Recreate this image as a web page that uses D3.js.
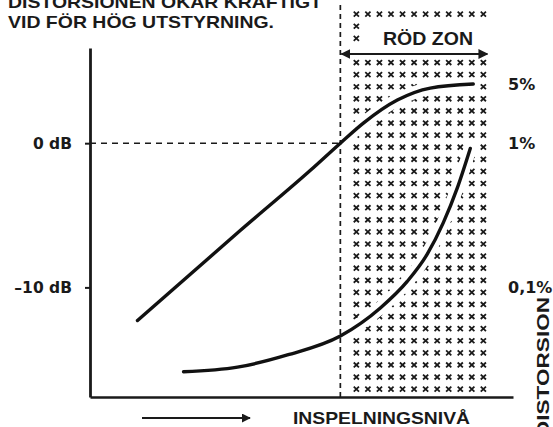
<!DOCTYPE html>
<html lang="sv">
<head>
  <meta charset="UTF-8">
  <title>Distorsion vid hög utstyrning</title>
  <script src="https://d3js.org/d3.v7.min.js"></script>
  <style>
    body {
      margin: 0;
      padding: 0;
      background: #fff;
    }
    svg text {
      font-family: "Liberation Sans", Arial, sans-serif;
      font-weight: bold;
      fill: #1a1a1a;
    }
    svg text.wide {
      font-family: "DejaVu Sans", Verdana, sans-serif;
    }
  </style>
</head>
<body>
  <div id="chart"></div>

  <script>
    // level curve: input level (dB) -> output level (dB)
    const levels1 = [-14.1, -6.94, -2.08, 0, 1.6, 3.96, 6.25, 9.24];
    const output1 = [-12.3, -6.04, -1.88, 0, 1.39, 2.99, 3.82, 4.1];

    // distortion curve: input level (dB) -> distortion (%)
    const levels2 = [-10.9, -7.15, -3.68, 0, 2.78, 4.65, 6.04, 7.15, 8.13, 9.03];
    const dist2 = [0.026, 0.028, 0.034, 0.046, 0.072, 0.11, 0.17, 0.28, 0.49, 0.92];

    const dbTicks = [0, -10];
    const dbLabels = ["0 dB", "–10 dB"];
    const distTicks = [0.1, 1, 5];
    const distLabels = ["0,1%", "1%", "5%"];
    const distAsDb = [-10, 0, 4.1];

    const titleLines = ["DISTORSIONEN ÖKAR KRAFTIGT", "VID FÖR HÖG UTSTYRNING."];

    const W = 553, H = 427;

    const svg = d3.select("#chart")
      .append("svg")
      .attr("width", W)
      .attr("height", H);

    const x = d3.scaleLinear().domain([-17.4, 12]).range([90, 513]);
    const y = d3.scaleLinear().domain([-17.6, 6.6]).range([397, 48]);
    const yDist = d3.scaleLog().domain(distTicks).range(distAsDb.map(y));

    // red zone pattern
    const zoneX = x(0);
    const cols = d3.scalePoint().domain(d3.range(12)).range([zoneX + 16, zoneX + 143]);
    const rows = d3.scalePoint().domain(d3.range(32)).range([14, 389]);
    const marks = [];
    rows.domain().forEach(r => {
      cols.domain().forEach(c => {
        const px = cols(c), py = rows(r);
        if (py > 20 && py < 58 && px > zoneX + 22) return;
        if (py > 46 && py < 58) return;
        marks.push([px, py]);
      });
    });

    svg.append("g")
      .selectAll("path")
      .data(marks)
      .enter()
      .append("path")
      .attr("transform", d => `translate(${d[0]},${d[1]})`)
      .attr("d", "M-2.6,-2.3 L2.6,2.6 M2.6,-2.3 L-2.6,2.6")
      .attr("stroke", "#1a1a1a")
      .attr("stroke-width", 1.8)
      .attr("fill", "none");

    const line1 = d3.line()
      .x((d, i) => x(levels1[i]))
      .y(d => y(d))
      .curve(d3.curveMonotoneX);

    const line2 = d3.line()
      .x((d, i) => x(levels2[i]))
      .y(d => yDist(d))
      .curve(d3.curveMonotoneX);

    // white gaps in the pattern around the curves
    [line1(output1), line2(dist2)].forEach(p => {
      svg.append("path")
        .attr("d", p)
        .attr("fill", "none")
        .attr("stroke", "#fff")
        .attr("stroke-width", 13)
        .attr("stroke-linecap", "round");
    });

    // dashed guides
    svg.append("line")
      .attr("x1", zoneX).attr("x2", zoneX)
      .attr("y1", 5).attr("y2", y.range()[0])
      .attr("stroke", "#1a1a1a")
      .attr("stroke-width", 1.7)
      .attr("stroke-dasharray", "5,4");

    svg.append("line")
      .attr("x1", x.range()[0]).attr("x2", zoneX)
      .attr("y1", y(0)).attr("y2", y(0))
      .attr("stroke", "#1a1a1a")
      .attr("stroke-width", 1.5)
      .attr("stroke-dasharray", "6,5");

    // curves
    [line1(output1), line2(dist2)].forEach(p => {
      svg.append("path")
        .attr("d", p)
        .attr("fill", "none")
        .attr("stroke", "#111")
        .attr("stroke-width", 3.4)
        .attr("stroke-linecap", "round");
    });

    // axes
    const yAxis = svg.append("g")
      .attr("transform", `translate(${x.range()[0]},0)`)
      .call(d3.axisLeft(y)
        .tickValues(dbTicks)
        .tickSize(5)
        .tickSizeOuter(0)
        .tickPadding(13)
        .tickFormat((d, i) => dbLabels[i]));
    yAxis.select(".domain").attr("stroke", "#1a1a1a").attr("stroke-width", 2.8);
    yAxis.selectAll(".tick line").attr("stroke", "#1a1a1a").attr("stroke-width", 2);
    yAxis.selectAll(".tick text")
      .attr("class", "wide")
      .style("font-size", "15.5px")
      .attr("fill", "#1a1a1a");

    const xAxis = svg.append("g")
      .attr("transform", `translate(0,${y.range()[0]})`)
      .call(d3.axisBottom(x).tickValues([]).tickSizeOuter(0));
    xAxis.select(".domain").attr("stroke", "#1a1a1a").attr("stroke-width", 2.6);

    const dAxis = svg.append("g")
      .attr("transform", "translate(508,0)")
      .call(d3.axisRight(yDist)
        .tickValues(distTicks)
        .tickSize(0)
        .tickPadding(0)
        .tickFormat((d, i) => distLabels[i]));
    dAxis.select(".domain").remove();
    dAxis.selectAll(".tick text")
      .attr("class", "wide")
      .style("font-size", "16px")
      .attr("fill", "#1a1a1a");

    // red zone arrow + label
    const defs = svg.append("defs");
    defs.append("marker")
      .attr("id", "ah")
      .attr("viewBox", "0 0 10 10")
      .attr("refX", 9).attr("refY", 5)
      .attr("markerWidth", 4.5).attr("markerHeight", 4.5)
      .attr("orient", "auto-start-reverse")
      .append("path")
      .attr("d", "M0,0 L10,5 L0,10 z")
      .attr("fill", "#1a1a1a");

    svg.append("line")
      .attr("x1", zoneX + 1).attr("x2", zoneX + 147)
      .attr("y1", 54).attr("y2", 54)
      .attr("stroke", "#1a1a1a")
      .attr("stroke-width", 2.2)
      .attr("marker-start", "url(#ah)")
      .attr("marker-end", "url(#ah)");

    svg.append("text")
      .attr("x", 383).attr("y", 45)
      .attr("textLength", 90)
      .attr("lengthAdjust", "spacingAndGlyphs")
      .style("font-size", "18px")
      .text("RÖD ZON");

    // x-axis label + arrow
    svg.append("line")
      .attr("x1", 142).attr("x2", 250)
      .attr("y1", 418).attr("y2", 418)
      .attr("stroke", "#1a1a1a")
      .attr("stroke-width", 2)
      .attr("marker-end", "url(#ah)");

    svg.append("text")
      .attr("x", 293).attr("y", 424)
      .attr("textLength", 177)
      .attr("lengthAdjust", "spacingAndGlyphs")
      .style("font-size", "17px")
      .text("INSPELNINGSNIVÅ");

    svg.append("text")
      .attr("transform", "translate(549,297) rotate(-90)")
      .attr("text-anchor", "end")
      .attr("textLength", 140)
      .attr("lengthAdjust", "spacingAndGlyphs")
      .style("font-size", "17px")
      .text("DISTORSION");

    // title
    svg.append("g")
      .selectAll("text")
      .data(titleLines)
      .enter()
      .append("text")
      .attr("x", 8)
      .attr("y", (d, i) => 8 + i * 20)
      .attr("textLength", (d, i) => i === 0 ? 314 : 266)
      .attr("lengthAdjust", "spacingAndGlyphs")
      .style("font-size", "17px")
      .text(d => d);
  </script>
</body>
</html>
